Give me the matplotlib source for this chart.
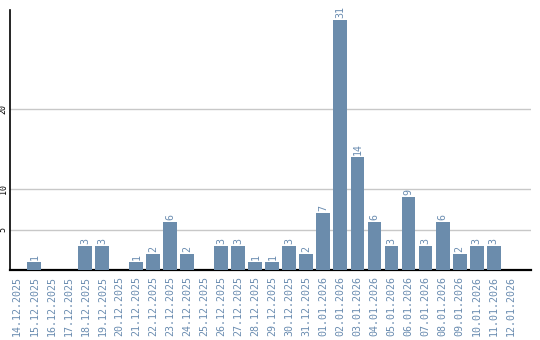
import matplotlib
matplotlib.use("Agg")
import matplotlib.pyplot as plt

dates = ["14.12.2025", "15.12.2025", "16.12.2025", "17.12.2025", "18.12.2025",
         "19.12.2025", "20.12.2025", "21.12.2025", "22.12.2025", "23.12.2025",
         "24.12.2025", "25.12.2025", "26.12.2025", "27.12.2025", "28.12.2025",
         "29.12.2025", "30.12.2025", "31.12.2025", "01.01.2026", "02.01.2026",
         "03.01.2026", "04.01.2026", "05.01.2026", "06.01.2026", "07.01.2026",
         "08.01.2026", "09.01.2026", "10.01.2026", "11.01.2026", "12.01.2026"]
counts = [0, 1, 0, 0, 3, 3, 0, 1, 2, 6, 2, 0, 3, 3, 1, 1, 3, 2, 7, 31,
          14, 6, 3, 9, 3, 6, 2, 3, 3, 0]
y_ticks = [5, 10, 20]

bar_color = "#6b8cac"
text_color = "#6a8cb0"
mono = "DejaVu Sans Mono"

fig = plt.figure(figsize=(5.4, 3.4), dpi=100)
ax = fig.add_axes([0.0194, 0.2059, 0.9639, 0.7647])

x = list(range(len(dates)))
ax.bar(x, counts, width=0.82, color=bar_color, zorder=3)

for xi, v in zip(x, counts):
    if v > 0:
        ax.text(xi, v + 0.25, str(v), rotation=90, ha="center", va="bottom",
                fontsize=7.2, color=text_color, family=mono)

ax.set_xlim(-0.4, 30.2)
ax.set_ylim(0, 32.2)
ax.set_yticks(y_ticks)
ax.set_yticklabels([str(t) for t in y_ticks], rotation=90, va="center",
                   ha="right", fontsize=6, family=mono)
ax.yaxis.grid(True, color="#c8c8c8", linewidth=1, zorder=0)
ax.tick_params(axis="y", length=0, pad=2)

ax.set_xticks(x)
ax.set_xticklabels(dates, rotation=90, fontsize=7.2, color=text_color,
                   family=mono)
ax.tick_params(axis="x", length=0, pad=4)

for side in ["top", "right"]:
    ax.spines[side].set_visible(False)
ax.spines["left"].set_linewidth(1.2)
ax.spines["bottom"].set_linewidth(1.6)

fig.savefig("out.png", dpi=100)
